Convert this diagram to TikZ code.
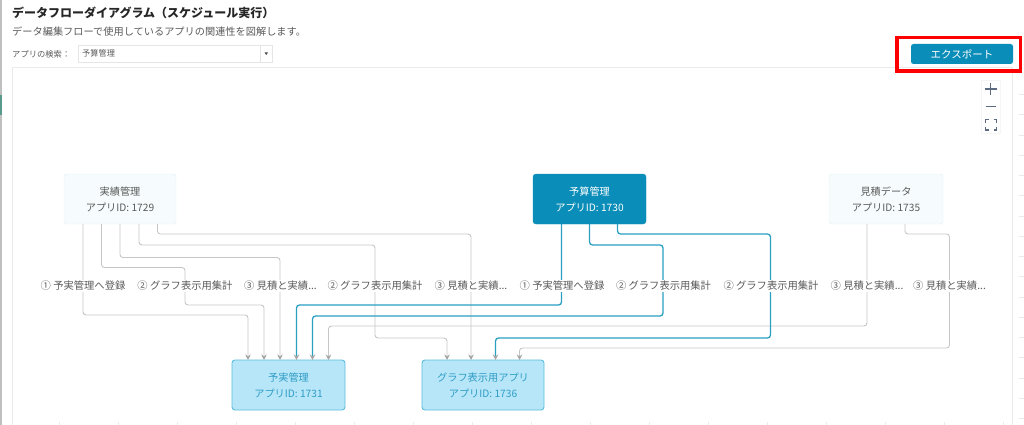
\documentclass[tikz,border=0pt]{standalone}
\usepackage{fontspec}
\setmainfont{Noto Sans CJK JP}
\usetikzlibrary{positioning}
\usetikzlibrary{arrows.meta}
\definecolor{tealmain}{HTML}{0A8DB8}
\definecolor{tealline}{HTML}{2A9FC2}
\definecolor{greyline}{HTML}{C6C6C6}
\definecolor{greytip}{HTML}{A6A6A6}
\definecolor{paleedge}{HTML}{DDF0F5}
\definecolor{palefill}{HTML}{F6FCFD}
\definecolor{destfill}{HTML}{B6E6F7}
\definecolor{destedge}{HTML}{5CBCDE}
\definecolor{desttext}{HTML}{2F9CC7}
\definecolor{bodytext}{HTML}{5A5A5A}
\definecolor{panelline}{HTML}{EAEAEA}
\definecolor{toolicon}{HTML}{5C6B82}
\definecolor{sidegreen}{HTML}{5A9A8A}
\tikzset{
  appnode/.style={rectangle, draw, rounded corners=3pt, outer sep=0pt, align=center,
    minimum height=50pt, font=\fontsize{10.2}{16}\selectfont},
  sourcenode/.style={appnode, minimum width=112pt, draw=paleedge, fill=palefill, text=bodytext},
  activenode/.style={appnode, minimum width=113pt, draw=tealmain, fill=tealmain, text=white},
  destnode/.style={appnode, line width=0.9pt, draw=destedge, fill=destfill, text=desttext},
  flowlabel/.style={rectangle, fill=white, inner xsep=1pt, inner ysep=1pt, text=bodytext,
    font=\fontsize{10.3}{12}\selectfont},
  greyflow/.style={-{Stealth[length=5.5pt,width=5.5pt,color=greytip]}, draw=greyline, line width=0.9pt, rounded corners=3pt},
  tealflow/.style={-{Stealth[length=5.5pt,width=5.5pt,color=greytip]}, draw=tealline, line width=1.3pt, rounded corners=3pt},
  panelrule/.style={draw=panelline, line width=0.9pt},
}

\begin{document}
\begin{tikzpicture}[x=1pt,y=-1pt]

    \useasboundingbox (0,0) rectangle (1024,425);

    %% page frame
    \draw[draw=black!25, line width=1.5pt] (0.75,0) -- (0.75,425);
    \draw[draw=sidegreen, line width=1.5pt] (0.75,95) -- (0.75,115);
    \draw[panelrule] (12.5,425) |- (1012.8,67) -- (1012.8,425);
    \draw[panelrule] (59,422) -- (59,425) (118,422) -- (118,425) (177,422) -- (177,425)
      (236,422) -- (236,425) (295,422) -- (295,425) (354,422) -- (354,425)
      (413,422) -- (413,425) (472,422) -- (472,425) (531,422) -- (531,425)
      (590,422) -- (590,425) (649,422) -- (649,425) (708,422) -- (708,425)
      (767,422) -- (767,425) (826,422) -- (826,425) (885,422) -- (885,425)
      (944,422) -- (944,425) (1003,422) -- (1003,425);
    \draw[panelrule] (1019,94) -- (1024,94) (1019,114.5) -- (1024,114.5) (1019,135) -- (1024,135)
      (1019,155) -- (1024,155) (1019,175) -- (1024,175) (1019,195.5) -- (1024,195.5)
      (1019,216) -- (1024,216) (1019,236) -- (1024,236) (1019,256) -- (1024,256)
      (1019,276.5) -- (1024,276.5) (1019,297) -- (1024,297) (1019,317) -- (1024,317)
      (1019,337) -- (1024,337) (1019,357.5) -- (1024,357.5) (1019,378) -- (1024,378)
      (1019,398) -- (1024,398) (1019,418) -- (1024,418);

    %% heading section
    \node[anchor=west, inner sep=0pt, font=\fontsize{12}{14}\selectfont\bfseries, text=black!85] (title) at (12,13) {データフローダイアグラム（スケジュール実行）};
    \node[anchor=west, inner sep=0pt, font=\fontsize{10.2}{12}\selectfont, text=bodytext] (subtitle) at (12,32) {データ編集フローで使用しているアプリの関連性を図解します。};
    \node[anchor=west, inner sep=0pt, font=\fontsize{8.3}{10}\selectfont, text=bodytext] (searchlabel) at (12,54) {アプリの検索：};
    \node[rectangle, draw=black!10, anchor=west, minimum width=194pt, minimum height=17pt, outer sep=0pt] (searchbox) at (78,53.5) {};
    \node[anchor=west, inner sep=0pt, font=\fontsize{8.2}{10}\selectfont, text=bodytext] (searchtext) at (82,53.5) {予算管理};
    \draw[draw=black!10, line width=0.4pt] ([xshift=-12pt]searchbox.north east) -- ([xshift=-12pt]searchbox.south east);
    \fill[black!70] (264.5,52.5) -- (268,52.5) -- (266.25,55) -- cycle;

    %% export button
    \node[rectangle, draw=red, line width=3.5pt, outer sep=0pt, anchor=north west, minimum width=123.5pt, minimum height=33.5pt] (exportmark) at (896.75,37.75) {};
    \node[rectangle, rounded corners=2.5pt, fill=tealmain, text=white, minimum width=102pt, minimum height=20pt, inner sep=0pt, font=\fontsize{10.5}{12}\selectfont] (exportbtn) at (962,54) {エクスポート};

    %% zoom tools
    \node[rectangle, draw=black!4, minimum width=19pt, minimum height=53pt] (toolbox) at (990.5,106.5) {};
    \draw[draw=toolicon, line width=1.4pt] (985,89) -- (996.5,89) (990.7,83) -- (990.7,95);
    \draw[draw=toolicon, line width=1.1pt] (985.5,106.7) -- (996,106.7);
    \draw[draw=toolicon, line width=1.1pt] (985.5,122.5) |- (988.5,119.5) (993.5,119.5) -| (996.3,122.5)
      (985.5,127) |- (988.5,130) (993.5,130) -| (996.3,127);

    %% source apps
    \node[sourcenode] (jisseki) at (120,199) {実績管理\\アプリID: 1729};
    \node[activenode, right=357pt of jisseki] (yosan) {予算管理\\アプリID: 1730};
    \node[sourcenode, minimum width=114pt, right=183pt of yosan] (mitsumori) {見積データ\\アプリID: 1735};

    %% destination apps
    \node[destnode, minimum width=113pt, below right=136pt and 56pt of jisseki] (yojitsu) {予実管理\\アプリID: 1731};
    \node[destnode, minimum width=122pt, right=77pt of yojitsu] (graphapp) {グラフ表示用アプリ\\アプリID: 1736};

    %% grey connectors
    \draw[greyflow] ([xshift=-37pt]jisseki.south) -- ++(0,91) -| ([xshift=-40.5pt]yojitsu.north);
    \draw[greyflow] ([xshift=-18.5pt]jisseki.south) -- ++(0,43.5) -- ++(83.5,0) -- ++(0,37.5) -| ([xshift=-24.5pt]yojitsu.north);
    \draw[greyflow] ([xshift=0pt]jisseki.south) -- ++(0,33.5) -| ([xshift=-8.5pt]yojitsu.north);
    \draw[greyflow] ([xshift=19pt]jisseki.south) -- ++(0,21) -- ++(236,0) -- ++(0,93) -| ([xshift=-36pt]graphapp.north);
    \draw[greyflow] ([xshift=37.5pt]jisseki.south) -- ++(0,10) -| ([xshift=-12pt]graphapp.north);
    \draw[greyflow] ([xshift=-19pt]mitsumori.south) -- ++(0,102) -| ([xshift=40pt]yojitsu.north);
    \draw[greyflow] ([xshift=19pt]mitsumori.south) -- ++(0,10) -- ++(44.5,0) -- ++(0,114) -| ([xshift=36.5pt]graphapp.north);

    %% teal connectors
    \draw[tealflow] ([xshift=-28pt]yosan.south) -- ++(0,81) -| ([xshift=8pt]yojitsu.north);
    \draw[tealflow] ([xshift=0pt]yosan.south) -- ++(0,21) -- ++(73.5,0) -- ++(0,71) -| ([xshift=24pt]yojitsu.north);
    \draw[tealflow] ([xshift=28pt]yosan.south) -- ++(0,10) -- ++(153,0) -- ++(0,104) -| ([xshift=12.5pt]graphapp.north);

    %% connector labels
    \node[flowlabel] (regist1) at (83,286) {① 予実管理へ登録};
    \node[flowlabel] (graph1) at (185,286) {② グラフ表示用集計};
    \node[flowlabel] (compare1) at (280.5,286) {③ 見積と実績...};
    \node[flowlabel] (graph2) at (375,286) {② グラフ表示用集計};
    \node[flowlabel] (compare2) at (471,286) {③ 見積と実績...};
    \node[flowlabel] (regist2) at (562,286) {① 予実管理へ登録};
    \node[flowlabel] (graph3) at (663.5,286) {② グラフ表示用集計};
    \node[flowlabel] (graph4) at (771,286) {② グラフ表示用集計};
    \node[flowlabel] (compare3) at (867,286) {③ 見積と実績...};
    \node[flowlabel] (compare4) at (949.5,286) {③ 見積と実績...};

\end{tikzpicture}
\end{document}
